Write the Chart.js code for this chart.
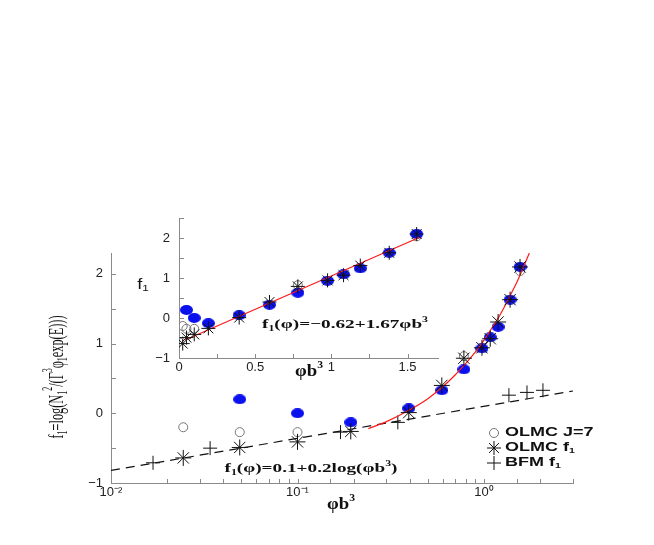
<!DOCTYPE html>
<html>
<head>
<meta charset="utf-8">
<script src="https://cdn.jsdelivr.net/npm/chart.js@4.4.0/dist/chart.umd.min.js"></script>
<style>
  html, body { margin: 0; padding: 0; background: #fff; }
  #wrap { position: relative; width: 654px; height: 545px; }
  #main { position: absolute; left: 0; top: 0; }
  #inset { position: absolute; left: 100px; top: 200px; }
</style>
</head>
<body>
<div id="wrap">
  <canvas id="main" width="654" height="545"></canvas>
  <canvas id="inset" width="360" height="180"></canvas>
</div>
<script>
// phi*b^3 values of the OLMC runs
const phiB3 = [0.0244, 0.049, 0.1, 0.193, 0.395, 0.594, 0.78, 0.975, 1.08, 1.19, 1.38, 1.56];
const olmcJ7 = [-0.2, -0.27, -0.27, null, 0.07, null, 0.82, null, null, null, null, 2.04];
const olmcF1 = [-0.64, -0.49, -0.41, -0.26, 0.01, 0.40, 0.79, 0.94, 1.07, 1.31, 1.63, 2.1];
const filled = [null, 0.2, 0.0, -0.13, 0.07, 0.33, 0.63, 0.93, 1.09, 1.24, 1.63, 2.1];

// BFM points
const bfmX = [0.0168, 0.034, 0.17, 0.345, 1.36, 1.70, 2.07];
const bfmY = [-0.71, -0.5, -0.27, -0.13, 0.26, 0.3, 0.33];

// fit lines
const dashX = [0.01, 3];
const dashY = [-0.82, 0.32];
const redX = [0.24, 0.3, 0.4, 0.5, 0.6, 0.7, 0.8, 0.9, 1.0, 1.1, 1.2, 1.3, 1.4, 1.5, 1.6, 1.75];
const redY = [-0.22, -0.12, 0.05, 0.21, 0.38, 0.55, 0.72, 0.88, 1.05, 1.22, 1.38, 1.55, 1.72, 1.88, 2.05, 2.3];
const insetRedX = [0.04, 1.58];
const insetRedY = [-0.55, 2.02];

const SANS = "'Liberation Sans', Arial, sans-serif";
const SERIF = "'Liberation Serif', 'Times New Roman', serif";
const AXIS = "#8a8a8a";
const BLUE = "#0a10ee";

function pts(xs, ys) {
  return xs.map((x, i) => ({ x: x, y: ys[i] })).filter(p => p.y !== null);
}

function isPow10(v) {
  const l = Math.log10(v);
  return Math.abs(l - Math.round(l)) < 1e-6;
}

function minus(v) {
  return v < 0 ? "\u2212" + Math.abs(v) : String(v);
}

// the filled dots are a bit wider than tall in the original
function ellipseImg(w, h, color) {
  const c = document.createElement("canvas");
  c.width = w;
  c.height = h;
  const g = c.getContext("2d");
  g.fillStyle = color;
  g.beginPath();
  g.ellipse(w / 2, h / 2, w / 2, h / 2, 0, 0, 2 * Math.PI);
  g.fill();
  return c;
}
const blueDot = ellipseImg(13, 10, BLUE);

// text with sub/superscripts; parts = [text, shift], shift 1 = sup, -1 = sub
function richText(ctx, x, y, parts, o) {
  const wt = o.weight || "normal";
  const small = Math.round(o.size * 0.62);
  ctx.save();
  const widths = parts.map(([t, s]) => {
    ctx.font = wt + " " + (s ? small : o.size) + "px " + o.family;
    return ctx.measureText(t).width;
  });
  const total = widths.reduce((a, b) => a + b, 0);
  let sx = o.sx || 1;
  if (o.width) sx = o.width / total;
  ctx.translate(x, y);
  if (o.rotate) ctx.rotate(o.rotate);
  ctx.scale(sx, o.sy || 1);
  ctx.fillStyle = o.color || "#111";
  ctx.textBaseline = "middle";
  ctx.textAlign = "left";
  let cx = o.align === "left" ? 0 : -total / 2;
  parts.forEach(([t, s], i) => {
    ctx.font = wt + " " + (s ? small : o.size) + "px " + o.family;
    const dy = s > 0 ? -o.size * 0.42 : s < 0 ? o.size * 0.28 : 0;
    ctx.fillText(t, cx, dy);
    cx += widths[i];
  });
  ctx.restore();
}

// tick marks pointing into the plot, like the original
const innerTicks = {
  id: "innerTicks",
  afterDraw(chart) {
    const ctx = chart.ctx, a = chart.chartArea;
    const xs = chart.scales.x, ys = chart.scales.y;
    ctx.save();
    ctx.strokeStyle = AXIS;
    ctx.lineWidth = 1;
    ctx.beginPath();
    xs.ticks.forEach(t => {
      const px = Math.round(xs.getPixelForValue(t.value)) + 0.5;
      ctx.moveTo(px, a.bottom);
      ctx.lineTo(px, a.bottom - 4);
    });
    ys.ticks.forEach(t => {
      const py = Math.round(ys.getPixelForValue(t.value)) + 0.5;
      ctx.moveTo(a.left, py);
      ctx.lineTo(a.left + 5, py);
    });
    ctx.stroke();
    ctx.restore();
  }
};

function drawMarker(ctx, style, r, x, y, stroke, fill) {
  ctx.save();
  ctx.strokeStyle = stroke;
  ctx.fillStyle = fill;
  ctx.lineWidth = 1;
  Chart.helpers.drawPoint(ctx, { pointStyle: style, radius: r, rotation: 0, borderWidth: 1 }, x, y);
  ctx.restore();
}

const mainTexts = {
  id: "mainTexts",
  afterDraw(chart) {
    const ctx = chart.ctx;
    richText(ctx, 57, 377,
      [["f", 0], ["1", -1], ["=log(N", 0], ["1", -1], ["2", 1], ["/(\u0393", 0], ["3", 1],
       ["\u03c6", 0], ["1", -1], ["exp(E)))", 0]],
      { size: 14, family: SERIF, rotate: -Math.PI / 2, width: 123, sy: 1.55 });
    richText(ctx, 311, 469,
      [["f", 0], ["1", -1], ["(\u03c6)=0.1+0.2log(\u03c6b", 0], ["3", 1], [")", 0]],
      { size: 13, family: SERIF, weight: "bold", width: 173 });
    richText(ctx, 345, 325,
      [["f", 0], ["1", -1], ["(\u03c6)=\u22120.62+1.67\u03c6b", 0], ["3", 1]],
      { size: 13, family: SERIF, weight: "bold", width: 166 });
    richText(ctx, 341, 505, [["\u03c6b", 0], ["3", 1]],
      { size: 16, family: SERIF, weight: "bold", width: 28 });

    // legend
    drawMarker(ctx, "circle", 4.5, 494, 433, "#777", "rgba(0,0,0,0)");
    drawMarker(ctx, "star", 7, 494, 448, "#111", "#111");
    drawMarker(ctx, "cross", 7, 494, 463, "#111", "#111");
    const lg = { size: 12, family: SANS, weight: "bold", align: "left", sx: 1.5 };
    richText(ctx, 505, 433, [["OLMC J=7", 0]], lg);
    richText(ctx, 505, 448, [["OLMC f", 0], ["1", -1]], lg);
    richText(ctx, 505, 463, [["BFM f", 0], ["1", -1]], lg);
  }
};

const insetTexts = {
  id: "insetTexts",
  afterDraw(chart) {
    const ctx = chart.ctx;
    // canvas sits at (100, 200) on the page
    richText(ctx, 209, 172, [["\u03c6b", 0], ["3", 1]],
      { size: 16, family: SERIF, weight: "bold", width: 28 });
    richText(ctx, 43, 85, [["f", 0], ["1", -1]],
      { size: 14, family: SANS, sx: 1.3 });
  }
};

const tickFont = { family: SANS, size: 13 };

new Chart(document.getElementById("main").getContext("2d"), {
  type: "scatter",
  data: {
    datasets: [
      {
        label: "OLMC f1",
        data: pts(phiB3, olmcF1),
        pointStyle: "star",
        pointRadius: 8,
        borderColor: "#111",
        borderWidth: 1,
      },
      {
        label: "fit linear",
        type: "line",
        data: pts(redX, redY),
        borderColor: "#ff1a1a",
        borderWidth: 1.2,
        pointRadius: 0,
        cubicInterpolationMode: "monotone",
      },
      {
        label: "fit log",
        type: "line",
        data: pts(dashX, dashY),
        borderColor: "#111",
        borderWidth: 1.2,
        borderDash: [9, 6],
        pointRadius: 0,
      },
      {
        label: "BFM f1",
        data: pts(bfmX, bfmY),
        pointStyle: "cross",
        pointRadius: 7,
        borderColor: "#111",
        borderWidth: 1,
      },
      {
        label: "filled",
        data: pts(phiB3, filled),
        pointStyle: blueDot,
        pointRadius: 5,
        backgroundColor: BLUE,
        borderColor: BLUE,
      },
      {
        label: "OLMC J=7",
        data: pts(phiB3, olmcJ7),
        pointStyle: "circle",
        pointRadius: 4.5,
        backgroundColor: "rgba(0,0,0,0)",
        borderColor: "#777",
        borderWidth: 1,
      },
    ],
  },
  options: {
    responsive: false,
    animation: false,
    layout: { padding: { top: 253, right: 81, left: 0, bottom: 0 } },
    plugins: { legend: { display: false }, tooltip: { enabled: false } },
    scales: {
      x: {
        type: "logarithmic",
        min: 0.01,
        max: 3,
        afterFit: s => { s.height = 62; },
        border: { display: true, color: AXIS },
        grid: { display: true, drawOnChartArea: false, drawTicks: false },
        ticks: {
          autoSkip: false,
          maxRotation: 0,
          padding: 2,
          color: "#222",
          font: tickFont,
          callback: v => {
            if (!isPow10(v)) return "";
            const e = Math.round(Math.log10(v));
            return "10" + { "-2": "\u207b\u00b2", "-1": "\u207b\u00b9", "0": "\u2070" }[e];
          },
        },
      },
      y: {
        min: -1,
        max: 2.3,
        afterFit: s => { s.width = 111; },
        border: { display: true, color: AXIS },
        grid: { display: true, drawOnChartArea: false, drawTicks: false },
        ticks: {
          stepSize: 0.5,
          includeBounds: false,
          padding: 8,
          color: "#222",
          font: tickFont,
          callback: v => (Number.isInteger(v) ? minus(v) : ""),
        },
      },
    },
  },
  plugins: [innerTicks, mainTexts],
});

new Chart(document.getElementById("inset").getContext("2d"), {
  type: "scatter",
  data: {
    datasets: [
      {
        label: "OLMC f1",
        data: pts(phiB3, olmcF1),
        pointStyle: "star",
        pointRadius: 7,
        borderColor: "#111",
        borderWidth: 1,
      },
      {
        label: "fit linear",
        type: "line",
        data: pts(insetRedX, insetRedY),
        borderColor: "#ff1a1a",
        borderWidth: 1.2,
        pointRadius: 0,
      },
      {
        label: "filled",
        data: pts(phiB3, filled),
        pointStyle: blueDot,
        pointRadius: 5,
        backgroundColor: BLUE,
        borderColor: BLUE,
      },
      {
        label: "OLMC J=7",
        data: pts(phiB3, olmcJ7),
        pointStyle: "circle",
        pointRadius: 4.5,
        backgroundColor: "rgba(0,0,0,0)",
        borderColor: "#777",
        borderWidth: 1,
      },
    ],
  },
  options: {
    responsive: false,
    animation: false,
    layout: { padding: { top: 18, right: 22, left: 0, bottom: 0 } },
    plugins: { legend: { display: false }, tooltip: { enabled: false } },
    scales: {
      x: {
        type: "linear",
        min: 0,
        max: 1.7,
        afterFit: s => { s.height = 22; },
        border: { display: true, color: AXIS },
        grid: { display: true, drawOnChartArea: false, drawTicks: false },
        ticks: {
          stepSize: 0.25,
          includeBounds: false,
          autoSkip: false,
          maxRotation: 0,
          padding: 2,
          color: "#222",
          font: tickFont,
          callback: v => (Math.abs(v * 2 - Math.round(v * 2)) < 1e-9 ? String(v) : ""),
        },
      },
      y: {
        min: -1,
        max: 2.5,
        afterFit: s => { s.width = 79; },
        border: { display: true, color: AXIS },
        grid: { display: true, drawOnChartArea: false, drawTicks: false },
        ticks: {
          stepSize: 0.5,
          includeBounds: false,
          padding: 9,
          color: "#222",
          font: tickFont,
          callback: v => (Number.isInteger(v) ? minus(v) : ""),
        },
      },
    },
  },
  plugins: [innerTicks, insetTexts],
});
</script>
</body>
</html>
